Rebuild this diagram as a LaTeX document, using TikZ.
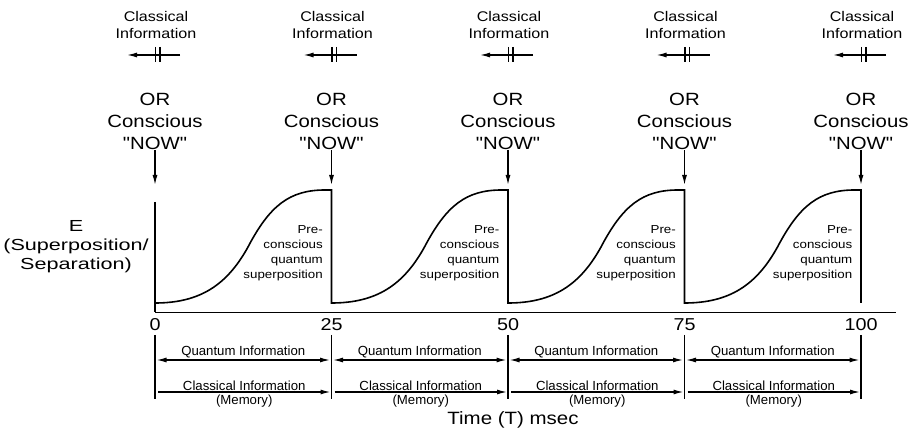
\documentclass[tikz,border=0pt]{standalone}
\usepackage{fontspec}
\setmainfont{Liberation Sans}[Ligatures=TeXOff]
\newfontfamily\wfont{Liberation Sans}[FakeStretch=1.15, Ligatures=TeXOff]
\newfontfamily\xwfont{Liberation Sans}[FakeStretch=1.35, Ligatures=TeXOff]
\usetikzlibrary{arrows.meta}

\tikzset{
  bigtxt/.style={font=\wfont\fontsize{17.7}{22}\selectfont, align=center, inner sep=0pt},
  smalltxt/.style={font=\wfont\fontsize{14}{17}\selectfont, align=center, inner sep=0pt},
  pretxt/.style={font=\wfont\fontsize{11.6}{15}\selectfont, align=right, inner sep=0pt},
  ticktxt/.style={font=\wfont\fontsize{17.2}{18}\selectfont, inner sep=0pt},
  bartxt/.style={font=\fontsize{13.2}{15}\selectfont, inner sep=1pt},
  wave/.style={line width=1.6pt, line join=miter},
  tip/.style={-{Latex[length=10pt,width=5pt]}, line width=1.3pt},
  dtip/.style={{Latex[length=10pt,width=5pt]}-{Latex[length=10pt,width=5pt]}, line width=1.3pt},
}

\begin{document}
\begin{tikzpicture}[x=1pt,y=-1pt]
\useasboundingbox (0,0) rectangle (918,435);

% time axis
\draw[line width=0.9pt] (155,312) coordinate (origin) -- (896,312) coordinate (xend);
\node[font=\xwfont\fontsize{16}{19}\selectfont, align=center] (elabel) at (76,247) {E\\(Superposition/\\Separation)};
\node[font=\wfont\fontsize{17.8}{20}\selectfont] (tlabel) at (513,420) {Time (T) msec};

% first rise and the waveform
\draw[wave] (155,202) -- (origin);
\draw[wave] (155,303)
  \foreach \i [evaluate=\i as \tx using 155+176.5*\i] in {0,...,3} {
    .. controls ({\tx+45},303) and ({\tx+72},285) .. ({\tx+93},247)
    .. controls ({\tx+115},205) and ({\tx+135},190) .. ({\tx+170},190)
    -- ({\tx+176.5},190) -- ({\tx+176.5},303)
  };

% labels at each tick
\foreach \i/\lab in {0/0,1/25,2/50,3/75,4/100} {
  \pgfmathsetmacro{\tx}{155+176.5*\i}
  \node[ticktxt] (t\i) at (\tx,325) {\lab};
  \node[bigtxt] (or\i) at (\tx,121) {OR\\Conscious\\"NOW"};
  \coordinate (top\i) at (\tx,185);
  \draw[tip] ([yshift=-1pt]or\i.south) -- (top\i);
  \node[smalltxt] (ci\i) at ({\tx+1},25) {Classical\\Information};
  \coordinate (cr\i) at ({\tx+25},55);
  \coordinate (cl\i) at ({\tx-28},55);
  \draw[tip] (cr\i) -- (cl\i);
  \draw[line width=1.4pt] ({\tx+0.5},47) -- ({\tx+0.5},62) ({\tx+5},47) -- ({\tx+5},62);
  \draw[line width=1.6pt] (\tx,335) coordinate (lo\i) -- (\tx,399) coordinate (lb\i);
}

% periods
\foreach \i [evaluate=\i as \tx using 155+176.5*\i] in {0,...,3} {
  \node[pretxt, anchor=east] (pre\i) at ({\tx+168},253.5) {Pre-\\conscious\\quantum\\superposition};
  \coordinate (qa\i) at ({\tx+1.5},360);
  \coordinate (qb\i) at ({\tx+175},360);
  \draw[dtip] (qa\i) -- node[bartxt, above] {Quantum Information} (qb\i);
  \coordinate (ma\i) at ({\tx+3},392);
  \coordinate (mb\i) at ({\tx+175.5},392);
  \draw[tip] (ma\i) -- node[bartxt, above] {Classical Information}
    node[bartxt, below, inner sep=2.5pt] {(Memory)} (mb\i);
}

\end{tikzpicture}
\end{document}
